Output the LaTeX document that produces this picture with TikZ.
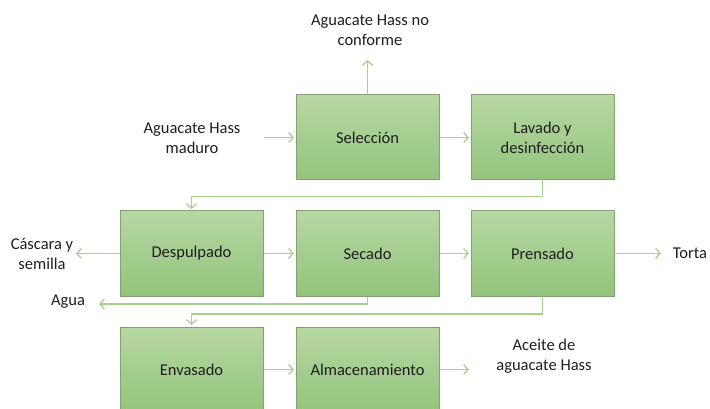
\documentclass[tikz,border=0pt]{standalone}
\usepackage{fontspec}
\setmainfont{Carlito}
\usetikzlibrary{arrows.meta}
\definecolor{boxtop}{HTML}{B6D8A2}
\definecolor{boxbot}{HTML}{93C47D}
\definecolor{boxline}{HTML}{86A076}
\definecolor{arrowcol}{HTML}{A9D18E}
\definecolor{txt}{HTML}{1E1E1E}
\tikzset{
  procbox/.style={draw=boxline, line width=1pt, top color=boxtop, bottom color=boxbot,
    minimum width=143pt, minimum height=85pt, inner sep=0pt, align=center,
    text=txt, font=\fontsize{16.5}{20}\selectfont},
  lbl/.style={align=center, text=txt, inner sep=0pt, font=\fontsize{16.5}{20}\selectfont},
  arr/.style={draw=arrowcol, line width=1.3pt, -{Straight Barb[length=4.5pt,width=10pt]}, shorten >=1.5pt}
}
\begin{document}
\begin{tikzpicture}[x=1pt,y=-1pt]
\useasboundingbox (0,0) rectangle (710,409);
\clip (0,0) rectangle (710,409);
% process boxes
\node[procbox] (sel)  at (367.5,137.5) {Selección};
\node[procbox] (lav)  at (542.5,137.5) {Lavado y\\desinfección};
\node[procbox] (desp) at (191.5,253.5) {Despulpado};
\node[procbox] (sec)  at (367.5,253.5) {Secado};
\node[procbox] (pren) at (542.5,253.5) {Prensado};
\node[procbox] (env)  at (191.5,369.5) {Envasado};
\node[procbox] (alm)  at (367.5,369.5) {Almacenamiento};
% labels
\node[lbl] (inp)    at (192,138) {Aguacate Hass\\maduro};
\node[lbl] (noconf) at (370,30) {Aguacate Hass no\\conforme};
\node[lbl] (casc)   at (42,254) {Cáscara y\\semilla};
\node[lbl] (agua)   at (68,302) {Agua};
\node[lbl] (torta)  at (690,253) {Torta};
\node[lbl] (aceite) at (544,356) {Aceite de\\aguacate Hass};
% free ends
\coordinate (inA)   at (264,137.5);
\coordinate (ncA)   at (367.5,60);
\coordinate (cascA) at (76,253.5);
\coordinate (aguaA) at (99,304);
\coordinate (tortaA) at (661,253.5);
\coordinate (aceA)  at (469,369.5);
% connectors
\draw[arr] (inA) -- (sel.west);
\draw[arr, shorten >=0pt] (sel.north) -- (ncA);
\draw[arr] (sel.east) -- (lav.west);
\draw[arr] (lav.south) -- ++(0,16) -| (desp.north);
\draw[arr, shorten >=0pt] (desp.west) -- (cascA);
\draw[arr] (desp.east) -- (sec.west);
\draw[arr] (sec.east) -- (pren.west);
\draw[arr, shorten >=0pt] (pren.east) -- (tortaA);
\draw[arr, shorten >=0pt] (sec.south) |- (aguaA);
\draw[arr] (pren.south) -- ++(0,17.5) -| (env.north);
\draw[arr] (env.east) -- (alm.west);
\draw[arr, shorten >=0pt] (alm.east) -- (aceA);
\end{tikzpicture}
\end{document}
